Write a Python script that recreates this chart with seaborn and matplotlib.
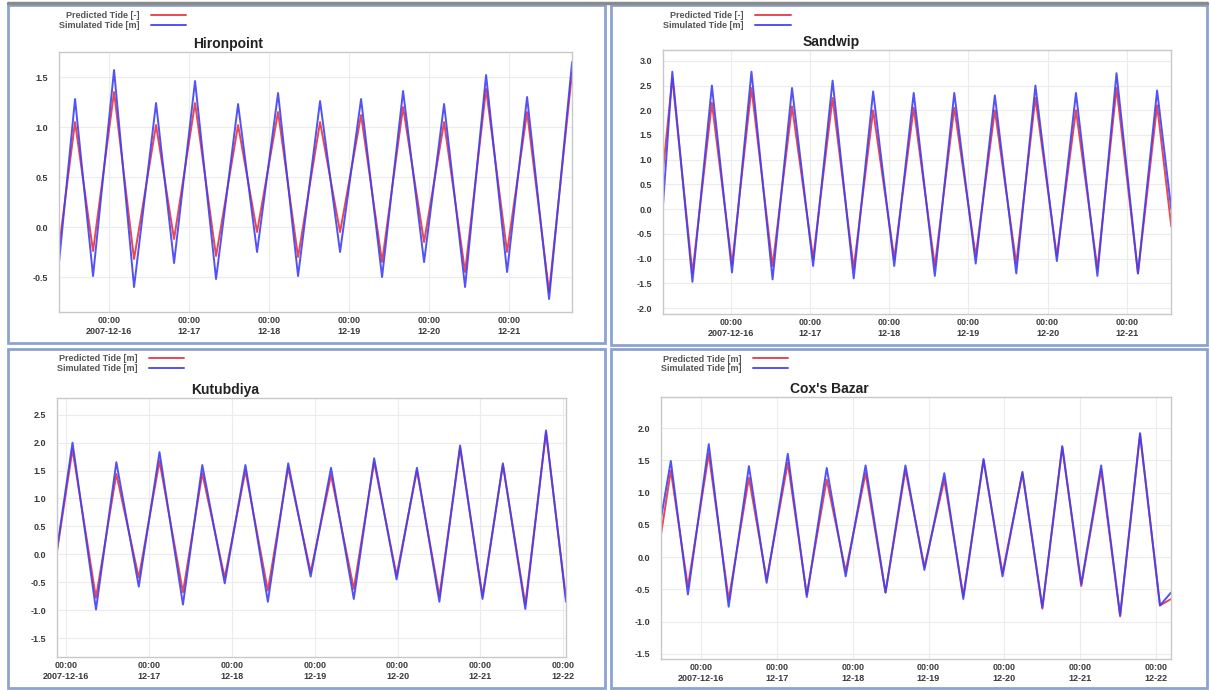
import pandas as pd
import matplotlib.pyplot as plt
import matplotlib.dates as mdates
from matplotlib.patches import Rectangle
from matplotlib.lines import Line2D
from matplotlib.ticker import MultipleLocator
import seaborn as sns

# Tide extremes: hours after 2007-12-16 00:00, levels in m
hiron_hours = [-15.0, -10.2, -4.8, 1.5, 7.5, 14.1, 19.5, 25.8, 32.1, 38.7, 44.4, 50.7, 56.7,
               63.3, 69.3, 75.6, 81.9, 88.2, 94.5, 100.5, 106.8, 113.1, 119.4, 125.4, 132.0, 138.9]
hiron_pred = [-0.20, 1.05, -0.24, 1.35, -0.32, 1.02, -0.12, 1.24, -0.29, 1.02, -0.05, 1.15, -0.30,
              1.05, -0.05, 1.12, -0.35, 1.20, -0.15, 1.05, -0.45, 1.38, -0.25, 1.15, -0.65, 1.55]
hiron_sim = [-0.35, 1.28, -0.49, 1.57, -0.60, 1.24, -0.36, 1.46, -0.52, 1.23, -0.25, 1.34, -0.49,
             1.26, -0.25, 1.28, -0.50, 1.36, -0.35, 1.23, -0.60, 1.52, -0.45, 1.30, -0.72, 1.65]

sand_hours = [-20.6, -17.8, -11.7, -5.8, 0.3, 6.2, 12.6, 18.5, 24.9, 30.8, 37.2, 43.1, 49.5,
              55.4, 61.8, 67.7, 74.2, 80.0, 86.5, 92.3, 98.8, 104.6, 111.1, 116.9, 123.4, 129.2, 133.5]
sand_pred = [0.80, 2.65, -1.30, 2.15, -1.12, 2.45, -1.15, 2.08, -1.00, 2.25, -1.20, 2.00, -1.00,
             2.05, -1.15, 2.05, -0.95, 2.00, -1.10, 2.25, -0.95, 2.00, -1.20, 2.45, -1.30, 2.10, -0.35]
sand_sim = [0.10, 2.78, -1.47, 2.50, -1.28, 2.78, -1.42, 2.45, -1.15, 2.60, -1.40, 2.38, -1.15,
            2.35, -1.35, 2.35, -1.10, 2.30, -1.30, 2.50, -1.05, 2.35, -1.35, 2.75, -1.30, 2.40, 0.00]

kutu_hours = [-2.7, 1.8, 8.6, 14.5, 21.0, 27.0, 33.8, 39.4, 45.9, 51.9, 58.4, 64.3, 70.8,
              76.7, 83.3, 89.2, 95.7, 101.6, 108.1, 114.1, 120.6, 126.5, 133.0, 139.0, 144.8]
kutu_pred = [0.05, 1.88, -0.78, 1.44, -0.42, 1.67, -0.68, 1.45, -0.42, 1.50, -0.65, 1.55, -0.32,
             1.42, -0.62, 1.65, -0.38, 1.50, -0.75, 1.90, -0.75, 1.60, -0.90, 2.18, -0.80]
kutu_sim = [0.09, 2.00, -0.99, 1.65, -0.58, 1.83, -0.90, 1.60, -0.52, 1.60, -0.85, 1.63, -0.40,
            1.55, -0.80, 1.72, -0.45, 1.55, -0.85, 1.95, -0.80, 1.63, -0.98, 2.22, -0.85]

cox_hours = [-12.6, -9.5, -4.1, 2.5, 8.8, 15.2, 20.8, 27.5, 33.5, 39.8, 45.8, 52.1, 58.4, 64.7,
             70.7, 77.0, 83.0, 89.4, 95.4, 101.7, 108.0, 114.3, 120.3, 126.6, 132.6, 138.9, 145.2, 148.7]
cox_pred = [0.35, 1.34, -0.46, 1.60, -0.66, 1.23, -0.35, 1.46, -0.58, 1.20, -0.22, 1.30, -0.55, 1.35,
            -0.15, 1.20, -0.60, 1.50, -0.25, 1.30, -0.80, 1.70, -0.45, 1.35, -0.92, 1.90, -0.75, -0.65]
cox_sim = [0.60, 1.49, -0.58, 1.75, -0.77, 1.41, -0.40, 1.60, -0.62, 1.38, -0.30, 1.42, -0.55, 1.42,
           -0.20, 1.30, -0.65, 1.52, -0.30, 1.32, -0.78, 1.72, -0.42, 1.42, -0.90, 1.92, -0.75, -0.55]

labels_6 = ["00:00\n2007-12-16", "00:00\n12-17", "00:00\n12-18", "00:00\n12-19",
            "00:00\n12-20", "00:00\n12-21"]
labels_7 = labels_6 + ["00:00\n12-22"]

base = pd.Timestamp("2007-12-16")
RED = "#e8343e"
BLUE = "#3f3ff5"
FRAME = "#8ca2cf"
TXT = "#3a3a3a"

sns.set_theme(style="whitegrid")
plt.rcParams["font.family"] = ["Liberation Sans", "DejaVu Sans"]

fig = plt.figure(figsize=(12.1, 6.9), dpi=100)

# gray strip along the top edge, then the blue panel frames (pixels: x0, y0 from top, x1, y1)
fig.add_artist(Line2D([8 / 1210, 1207 / 1210], [1 - 2.5 / 690, 1 - 2.5 / 690],
                      transform=fig.transFigure, color="#8a8a8a", lw=2.5))
for x0, y0, x1, y1 in [(8, 5, 605, 343), (611, 5, 1207, 345), (8, 349, 605, 688), (611, 349, 1207, 688)]:
    fig.patches.append(Rectangle((x0 / 1210, 1 - y1 / 690), (x1 - x0) / 1210, (y1 - y0) / 690,
                                 transform=fig.transFigure, fill=False, ec=FRAME, lw=2))

# title, hours, predicted, simulated, legend name, tick labels, axes rect, ylim, legend y
panels = [
    ("Hironpoint", hiron_hours, hiron_pred, hiron_sim, "Predicted Tide [-]", labels_6,
     [0.0488, 0.5478, 0.424, 0.3768], (-0.85, 1.75), 1.158),
    ("Sandwip", sand_hours, sand_pred, sand_sim, "Predicted Tide [-]", labels_6,
     [0.548, 0.545, 0.42, 0.3826], (-2.12, 3.22), 1.147),
    ("Kutubdiya", kutu_hours, kutu_pred, kutu_sim, "Predicted Tide [m]", labels_7,
     [0.0471, 0.0478, 0.4207, 0.3754], (-1.84, 2.8), 1.17),
    ("Cox's Bazar", cox_hours, cox_pred, cox_sim, "Predicted Tide [m]", labels_7,
     [0.5463, 0.0449, 0.4215, 0.3797], (-1.58, 2.48), 1.162),
]

for title, hours, pred, sim, pred_name, tick_labels, rect, ylim, leg_y in panels:
    ax = fig.add_axes(rect)
    times = base + pd.to_timedelta(hours, unit="h")
    df = pd.concat([
        pd.DataFrame({"time": times, "level": pred, "series": pred_name}),
        pd.DataFrame({"time": times, "level": sim, "series": "Simulated Tide [m]"}),
    ])
    sns.lineplot(data=df, x="time", y="level", hue="series", sort=False, ax=ax,
                 palette={pred_name: RED, "Simulated Tide [m]": BLUE}, lw=1.4, alpha=0.9)
    for line in ax.get_lines():
        line.set_solid_joinstyle("round")
    ax.set_xlim(times[0], times[-1])
    ax.set_ylim(*ylim)
    ticks = pd.date_range(base, periods=len(tick_labels), freq="D")
    ax.set_xticks(mdates.date2num(ticks))
    ax.set_xticklabels(tick_labels)
    ax.yaxis.set_major_locator(MultipleLocator(0.5))
    ax.yaxis.set_major_formatter(plt.FuncFormatter(lambda v, p: f"{v:.1f}"))
    ax.set_xlabel("")
    ax.set_ylabel("")
    ax.tick_params(length=0, labelsize=6.5, labelcolor=TXT)
    ax.tick_params(axis="y", pad=8)
    ax.tick_params(axis="x", pad=3)
    for lab in ax.get_xticklabels() + ax.get_yticklabels():
        lab.set_fontweight("bold")
    ax.grid(True, color="#ececec", lw=0.8)
    for s in ax.spines.values():
        s.set_color("#c8c8c8")
        s.set_linewidth(1)
    ax.set_title(title, x=0.33, fontsize=10, fontweight="bold", color="#222222", pad=3)
    leg = ax.legend(loc="upper left", bbox_to_anchor=(0.0, leg_y), frameon=False, markerfirst=False,
                    fontsize=6.5, handlelength=3.9, borderpad=0, borderaxespad=0, labelspacing=0.1,
                    handletextpad=1.3)
    for t in leg.get_texts():
        t.set_fontweight("bold")
        t.set_color("#555555")

fig.savefig("out.png", dpi=100)
